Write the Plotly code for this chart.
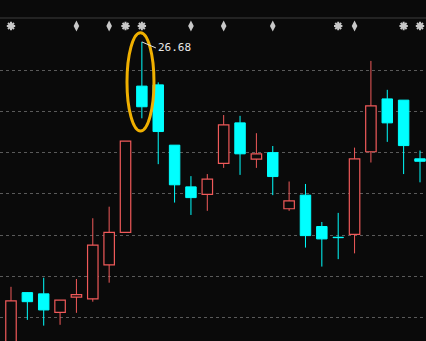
import plotly.graph_objects as go

# ---- data (prices) ----
opens  = [19.20, 20.61, 20.58, 20.13, 20.50, 20.46, 21.28, 22.07, 25.61, 25.64, 24.18, 23.17, 22.99,
          23.74, 24.72, 23.84, 24.00, 22.64, 22.97, 22.21, 21.95, 22.02, 24.02, 25.30, 25.27, 23.85]
highs  = [20.75, 20.62, 20.97, 20.43, 20.94, 22.41, 22.69, 24.28, 26.68, 25.70, 24.18, 23.43, 23.48,
          24.91, 24.89, 24.47, 24.16, 23.30, 23.24, 22.32, 22.54, 24.12, 26.22, 25.52, 25.27, 24.05]
lows   = [19.10, 19.95, 19.81, 19.83, 20.12, 20.39, 20.85, 22.07, 24.83, 23.72, 22.79, 22.49, 22.59,
          23.63, 23.46, 23.63, 22.97, 22.59, 21.70, 21.24, 21.42, 21.56, 23.76, 24.26, 23.48, 23.28]
closes = [20.41, 20.39, 20.19, 20.43, 20.56, 21.76, 22.07, 24.28, 25.11, 24.51, 23.22, 22.91, 23.36,
          24.67, 23.97, 23.97, 23.42, 22.83, 21.99, 21.91, 21.94, 23.85, 25.13, 24.72, 24.17, 23.79]
# signal markers in the top strip: "s" = star, "a" = arrow, "" = none
signals = ["s", "", "", "", "a", "", "a", "s", "s", "", "", "a", "",
           "a", "", "", "a", "", "", "", "s", "a", "", "", "s", "s"]
grid_levels = [20, 21, 22, 23, 24, 25, 26]
peak_label = "26.68"

BG = "#0a0a0a"
RED = "#f05a5a"
CYAN = "#00ffff"

n = len(opens)
xs = list(range(n))

fig = go.Figure()

# bodies
up = [i for i in xs if closes[i] > opens[i]]
dn = [i for i in xs if closes[i] <= opens[i]]
fig.add_trace(go.Bar(
    x=up, base=[opens[i] for i in up], y=[closes[i] - opens[i] for i in up],
    width=0.64, marker=dict(color=BG, line=dict(color=RED, width=1.2)), hoverinfo="skip"))
fig.add_trace(go.Bar(
    x=dn, base=[closes[i] for i in dn], y=[opens[i] - closes[i] for i in dn],
    width=0.64, marker=dict(color=CYAN, line=dict(color=CYAN, width=1)), hoverinfo="skip"))

# wicks
def wick_xy(idx):
    wx, wy = [], []
    for i in idx:
        top = max(opens[i], closes[i]); bot = min(opens[i], closes[i])
        if highs[i] > top:
            wx += [i, i, None]; wy += [top, highs[i], None]
        if lows[i] < bot:
            wx += [i, i, None]; wy += [bot, lows[i], None]
    return wx, wy

ux, uy = wick_xy(up)
dx_, dy_ = wick_xy(dn)
fig.add_trace(go.Scatter(x=ux, y=uy, mode="lines", line=dict(color=RED, width=1), hoverinfo="skip"))
fig.add_trace(go.Scatter(x=dx_, y=dy_, mode="lines", line=dict(color=CYAN, width=1), hoverinfo="skip"))

# signal strip
sig_y = 27.065
sx = [i for i in xs if signals[i] == "s"]
ax_ = [i for i in xs if signals[i] == "a"]
fig.add_trace(go.Scatter(x=sx, y=[sig_y] * len(sx), mode="markers",
                         marker=dict(symbol="asterisk-open", size=7, color="#c8c8c8",
                                     line=dict(color="#c8c8c8", width=2)), hoverinfo="skip"))
fig.add_trace(go.Scatter(x=ax_, y=[sig_y] * len(ax_), mode="markers",
                         marker=dict(symbol="diamond-tall", size=8, color="#c8c8c8"), hoverinfo="skip"))

# top separator line
fig.add_shape(type="line", xref="paper", yref="paper", x0=0, x1=1, y0=1 - 18 / 341, y1=1 - 18 / 341,
              line=dict(color="#3c3c3c", width=1))

# highlight ellipse around the peak candle
pk = highs.index(max(highs[:20]))
fig.add_shape(type="circle", xref="x", yref="y",
              x0=pk - 0.91, x1=pk + 0.74, y0=lows[pk] - 0.31, y1=highs[pk] + 0.22,
              line=dict(color="#f0b000", width=3))

# peak label
fig.add_annotation(x=pk, y=highs[pk], text=peak_label, showarrow=True, arrowhead=0,
                   arrowcolor="#e0e0e0", arrowwidth=1, ax=14, ay=6, xanchor="left",
                   font=dict(family="DejaVu Sans Mono", size=11, color="#e8e8e8"))

fig.update_layout(
    width=426, height=341, margin=dict(l=0, r=0, t=0, b=0),
    paper_bgcolor=BG, plot_bgcolor=BG, showlegend=False, barmode="overlay",
    xaxis=dict(range=[-0.672, 25.367], showgrid=False, zeroline=False, showticklabels=False,
               ticks="", showline=False),
    yaxis=dict(range=[19.438, 27.695], tickvals=grid_levels, showgrid=True, gridcolor="#5a5a5a",
               griddash="dot", gridwidth=1, zeroline=False, showticklabels=False, ticks="",
               showline=False),
)

fig.write_html("out.html")
